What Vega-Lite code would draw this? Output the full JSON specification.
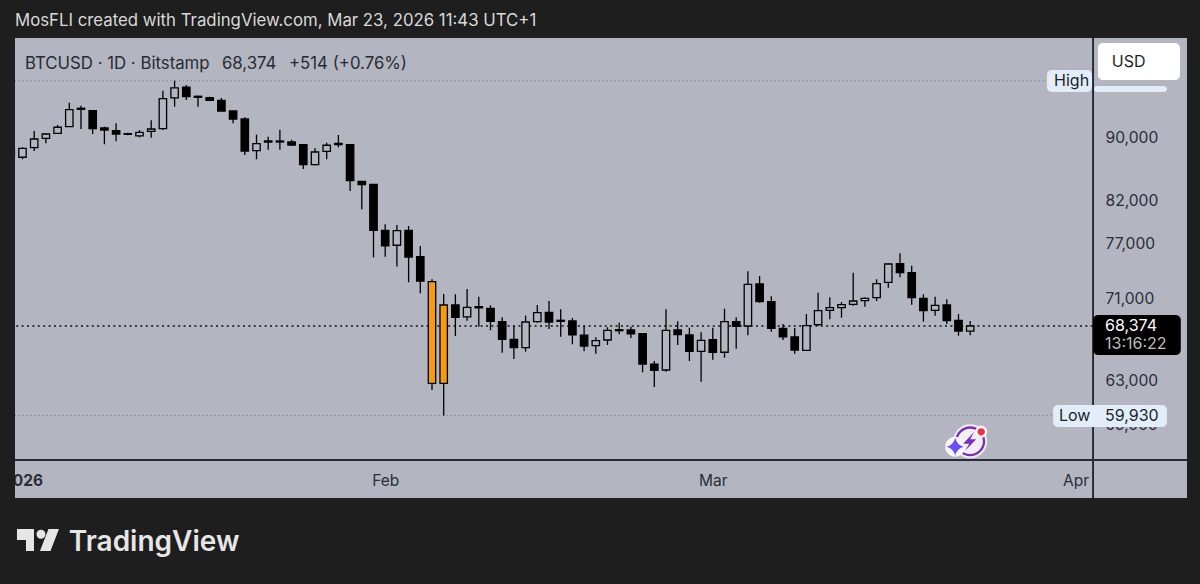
{
  "$schema": "https://vega.github.io/schema/vega-lite/v6.json",
  "autosize": "none",
  "width": 1172,
  "height": 460,
  "padding": {"left": 15, "top": 38, "right": 13, "bottom": 86},
  "background": "#1e1e1e",
  "view": {"fill": "#b3b6c0", "stroke": null},
  "title": {
    "text": "MosFLI created with TradingView.com, Mar 23, 2026 11:43 UTC+1",
    "anchor": "start",
    "frame": "group",
    "offset": 7,
    "font": "Inter",
    "fontSize": 16.8,
    "fontWeight": "normal",
    "color": "#d9d9d9"
  },
  "resolve": {"scale": {"color": "independent", "fill": "independent", "shape": "independent"}},
  "layer": [
    {
      "data": {"values": [
        {"date": "2025-12-31", "date2": "2026-03-29T13:26:00Z", "price": 98090},
        {"date": "2025-12-31", "date2": "2026-03-30T02:00:00Z", "price": 59930}
      ], "format": {"parse": {"date": "date", "date2": "date"}}},
      "mark": {"type": "rule", "color": "#6f7380", "strokeWidth": 1, "strokeDash": [1, 3], "clip": true},
      "encoding": {
        "x": {
          "field": "date",
          "type": "temporal",
          "title": null,
          "scale": {"type": "utc", "domain": ["2025-12-31T08:38:00Z", "2026-04-10T12:43:00Z"], "nice": false, "padding": 0},
          "axis": {
            "orient": "bottom",
            "offset": -18,
            "values": [
              {"year": 2026, "month": 1, "date": 1, "utc": true},
              {"year": 2026, "month": 2, "date": 1, "utc": true},
              {"year": 2026, "month": 3, "date": 1, "utc": true},
              {"year": 2026, "month": 4, "date": 1, "utc": true}
            ],
            "labelExpr": "utcmonth(datum.value) == 0 ? '2026' : utcFormat(datum.value, '%b')",
            "labelFontWeight": {"condition": {"test": "utcmonth(datum.value) == 0", "value": "bold"}, "value": "normal"},
            "labelFont": "Inter",
            "labelFontSize": 15.5,
            "labelColor": "#2a2e39",
            "labelAngle": 0,
            "labelAlign": "center",
            "labelBaseline": "middle",
            "labelPadding": 0,
            "labelOverlap": false,
            "labelFlush": false,
            "labelBound": false,
            "domain": false,
            "ticks": false,
            "grid": false
          }
        },
        "x2": {"field": "date2"},
        "y": {
          "field": "price",
          "type": "quantitative",
          "title": null,
          "scale": {"type": "log", "domain": [53087, 104450], "nice": false, "zero": false},
          "axis": {
            "orient": "right",
            "offset": -82,
            "values": [59000, 63000, 71000, 77000, 82000, 90000],
            "format": ",d",
            "labelFont": "Inter",
            "labelFontSize": 15.6,
            "labelColor": "#2a2e39",
            "labelAlign": "left",
            "labelBaseline": "middle",
            "labelPadding": 0,
            "labelOffset": -1.5,
            "labelOverlap": false,
            "labelBound": false,
            "labelFlush": false,
            "domain": false,
            "ticks": false,
            "grid": false
          }
        }
      }
    },
    {
      "data": {"values": [
        {"date": "2025-12-31", "date2": "2026-04-02T12:00:00Z", "price": 68374}
      ], "format": {"parse": {"date": "date", "date2": "date"}}},
      "mark": {"type": "rule", "color": "#111111", "strokeWidth": 1.3, "strokeDash": [2, 3.4], "clip": true},
      "encoding": {
        "x": {"field": "date", "type": "temporal"},
        "x2": {"field": "date2"},
        "y": {"field": "price", "type": "quantitative"}
      }
    },
    {
      "data": {"name": "candles"},
      "mark": {"type": "rule", "color": "#000000", "strokeWidth": 1.3, "clip": true},
      "encoding": {
        "x": {"field": "date", "type": "temporal"},
        "y": {"field": "low", "type": "quantitative"},
        "y2": {"field": "high"}
      }
    },
    {
      "data": {"name": "candles"},
      "mark": {"type": "bar", "orient": "vertical", "size": 7.4, "stroke": "#000000", "strokeWidth": 1.3, "clip": true},
      "encoding": {
        "x": {"field": "date", "type": "temporal"},
        "y": {"field": "open", "type": "quantitative"},
        "y2": {"field": "close"},
        "fill": {
          "field": "dir",
          "type": "nominal",
          "legend": null,
          "scale": {"domain": ["up", "down", "flag"], "range": ["#b3b6c0", "#000000", "#f79a0e"]}
        }
      }
    },
    {
      "data": {"values": [
        {"date": "2026-04-02T12:00:00Z"}
      ], "format": {"parse": {"date": "date"}}},
      "mark": {"type": "rule", "color": "#0c0c10", "strokeWidth": 1.6},
      "encoding": {"x": {"field": "date", "type": "temporal"}}
    },
    {
      "data": {"values": [
        {"price": 56140}
      ]},
      "mark": {"type": "rule", "color": "#2a2a32", "strokeWidth": 2},
      "encoding": {"y": {"field": "price", "type": "quantitative"}}
    },
    {
      "data": {"values": [
        {"name": "mask", "date": "2025-12-29", "date2": "2025-12-31T08:38:00Z", "price": 56000, "price2": 53087},
        {"name": "high", "date": "2026-03-29T13:26:00Z", "date2": "2026-04-02T09:50:00Z", "price": 99645, "price2": 96472},
        {"name": "strip", "date": "2026-04-02T14:00:00Z", "date2": "2026-04-08T19:40:00Z", "price": 97327, "price2": 96472},
        {"name": "low", "date": "2026-03-30T02:00:00Z", "date2": "2026-04-08T19:40:00Z", "price": 60871, "price2": 58933},
        {"name": "tag", "date": "2026-04-02T12:00:00Z", "date2": "2026-04-10T00:00:00Z", "price": 69491, "price2": 65520},
        {"name": "usd", "date": "2026-04-02T22:00:00Z", "date2": "2026-04-09T22:20:00Z", "price": 103683, "price2": 98190}
      ], "format": {"parse": {"date": "date", "date2": "date"}}},
      "mark": {"type": "rect", "cornerRadius": 5},
      "encoding": {
        "x": {"field": "date", "type": "temporal"},
        "x2": {"field": "date2"},
        "y": {"field": "price", "type": "quantitative"},
        "y2": {"field": "price2"},
        "color": {
          "field": "name",
          "type": "nominal",
          "legend": null,
          "scale": {"domain": ["mask", "high", "strip", "low", "tag", "usd"], "range": ["#1e1e1e", "#e3edfa", "#e3edfa", "#e3edfa", "#000000", "#ffffff"]}
        }
      }
    },
    {
      "data": {"values": [
        {"label": "BTCUSD · 1D · Bitstamp", "date": "2026-01-01T05:00:00Z", "price": 100600},
        {"label": "68,374", "date": "2026-01-18T01:00:00Z", "price": 100600},
        {"label": "+514 (+0.76%)", "date": "2026-01-23T18:40:00Z", "price": 100600}
      ], "format": {"parse": {"date": "date"}}},
      "mark": {"type": "text", "font": "Inter", "fontSize": 16.8, "align": "left", "baseline": "middle", "color": "#272b36"},
      "encoding": {
        "x": {"field": "date", "type": "temporal"},
        "y": {"field": "price", "type": "quantitative"},
        "text": {"field": "label", "type": "nominal"}
      }
    },
    {
      "data": {"values": [
        {"label": "High", "role": "dark", "date": "2026-03-30T04:00:00Z", "price": 98118},
        {"label": "Low", "role": "dark", "date": "2026-03-30T14:00:00Z", "price": 59900},
        {"label": "59,930", "role": "dark", "date": "2026-04-03T12:30:00Z", "price": 59900},
        {"label": "68,374", "role": "white", "date": "2026-04-03T12:30:00Z", "price": 68374},
        {"label": "13:16:22", "role": "soft", "date": "2026-04-03T12:30:00Z", "price": 66560},
        {"label": "USD", "role": "dark", "date": "2026-04-04T02:24:00Z", "price": 100825}
      ], "format": {"parse": {"date": "date"}}},
      "mark": {"type": "text", "font": "Inter", "fontSize": 16, "align": "left", "baseline": "middle"},
      "encoding": {
        "x": {"field": "date", "type": "temporal"},
        "y": {"field": "price", "type": "quantitative"},
        "text": {"field": "label", "type": "nominal"},
        "color": {
          "field": "role",
          "type": "nominal",
          "legend": null,
          "scale": {"domain": ["dark", "white", "soft"], "range": ["#1c1f29", "#ffffff", "#bdbdbd"]}
        }
      }
    },
    {
      "data": {"values": [
        {"label": "TradingView", "date": "2026-01-04T23:00:00Z", "price": 49685}
      ], "format": {"parse": {"date": "date"}}},
      "mark": {"type": "text", "font": "Inter", "fontSize": 28, "fontWeight": 600, "align": "left", "baseline": "middle", "color": "#e6e6e6"},
      "encoding": {
        "x": {"field": "date", "type": "temporal"},
        "y": {"field": "price", "type": "quantitative"},
        "text": {"field": "label", "type": "nominal"}
      }
    },
    {
      "data": {"values": [
        {"date": "2026-01-02T07:45:00Z", "price": 49905}
      ], "format": {"parse": {"date": "date"}}},
      "mark": {
        "type": "point",
        "filled": true,
        "size": 4,
        "color": "#e6e6e6",
        "opacity": 1,
        "shape": "M-21,-11H-4V11H-12V0H-21ZM-1.5,-5.7a4.5,4.5 0 1,0 9,0a4.5,4.5 0 1,0 -9,0ZM10.5,-11H21L12.5,11H2Z"
      },
      "encoding": {
        "x": {"field": "date", "type": "temporal"},
        "y": {"field": "price", "type": "quantitative"}
      }
    },
    {
      "data": {"values": [
        {"part": "disc", "date": "2026-03-23T00:00:00Z", "price": 57700},
        {"part": "ring", "date": "2026-03-23T00:00:00Z", "price": 57700},
        {"part": "halo", "date": "2026-03-23T00:00:00Z", "price": 57700},
        {"part": "star", "date": "2026-03-23T00:00:00Z", "price": 57700},
        {"part": "bolt", "date": "2026-03-23T00:00:00Z", "price": 57700},
        {"part": "dot", "date": "2026-03-23T00:00:00Z", "price": 57700}
      ], "format": {"parse": {"date": "date"}}},
      "mark": {"type": "point", "filled": true, "size": 4, "opacity": 1},
      "encoding": {
        "x": {"field": "date", "type": "temporal"},
        "y": {"field": "price", "type": "quantitative"},
        "color": {
          "field": "part",
          "type": "nominal",
          "legend": null,
          "scale": {"domain": ["disc", "ring", "halo", "star", "bolt", "dot"], "range": ["#f1eff6", "#7d2fb3", "#f7f5fa", "#6a4df5", "#7d2fb3", "#ee3340"]}
        },
        "shape": {
          "field": "part",
          "type": "nominal",
          "legend": null,
          "scale": {
            "domain": ["disc", "ring", "halo", "star", "bolt", "dot"],
            "range": [
              "M-17,0a17,17 0 1,0 34,0a17,17 0 1,0 -34,0Z",
              "M-15,0a15,15 0 1,0 30,0a15,15 0 1,0 -30,0ZM-12.7,0a12.7,12.7 0 1,1 25.4,0a12.7,12.7 0 1,1 -25.4,0Z",
              "M-25,5.5a10,10 0 1,0 20,0a10,10 0 1,0 -20,0ZM5,-9.5a6,6 0 1,0 12,0a6,6 0 1,0 -12,0Z",
              "M-15,-3.5Q-13.5,3.5 -6.5,5.5Q-13.5,7.5 -15,14.5Q-16.5,7.5 -23.5,5.5Q-16.5,3.5 -15,-3.5Z",
              "M4,-9.5L-7,2.5H-1L-5,9.5L6,-2H0Z",
              "M7.3,-9.5a3.7,3.7 0 1,0 7.4,0a3.7,3.7 0 1,0 -7.4,0Z"
            ]
          }
        }
      }
    }
  ],
  "datasets": {
    "candles": [
      {"date": "2025-12-31", "open": 87678, "close": 88581, "high": 88712, "low": 87549, "dir": "up"},
      {"date": "2026-01-01", "open": 87639, "close": 88807, "high": 88938, "low": 87381, "dir": "up"},
      {"date": "2026-01-02", "open": 88885, "close": 90030, "high": 91094, "low": 88452, "dir": "up"},
      {"date": "2026-01-03", "open": 90123, "close": 90695, "high": 90788, "low": 89462, "dir": "up"},
      {"date": "2026-01-04", "open": 90788, "close": 91594, "high": 91904, "low": 90695, "dir": "up"},
      {"date": "2026-01-05", "open": 91674, "close": 93995, "high": 94968, "low": 91674, "dir": "up"},
      {"date": "2026-01-06", "open": 94050, "close": 94189, "high": 94551, "low": 91364, "dir": "up"},
      {"date": "2026-01-07", "open": 93855, "close": 91404, "high": 93900, "low": 90695, "dir": "down"},
      {"date": "2026-01-08", "open": 91499, "close": 91227, "high": 91674, "low": 89331, "dir": "down"},
      {"date": "2026-01-09", "open": 91134, "close": 90695, "high": 92133, "low": 89724, "dir": "down"},
      {"date": "2026-01-10", "open": 90735, "close": 90655, "high": 90868, "low": 90522, "dir": "down"},
      {"date": "2026-01-11", "open": 90429, "close": 90921, "high": 91227, "low": 90256, "dir": "up"},
      {"date": "2026-01-12", "open": 91054, "close": 91364, "high": 92538, "low": 90203, "dir": "up"},
      {"date": "2026-01-13", "open": 91404, "close": 95530, "high": 96658, "low": 91227, "dir": "up"},
      {"date": "2026-01-14", "open": 95629, "close": 97046, "high": 98090, "low": 94412, "dir": "up"},
      {"date": "2026-01-15", "open": 97146, "close": 95812, "high": 97475, "low": 95343, "dir": "down"},
      {"date": "2026-01-16", "open": 95869, "close": 95728, "high": 95953, "low": 94412, "dir": "down"},
      {"date": "2026-01-17", "open": 95671, "close": 95301, "high": 95812, "low": 95246, "dir": "down"},
      {"date": "2026-01-18", "open": 95301, "close": 93814, "high": 95629, "low": 93814, "dir": "down"},
      {"date": "2026-01-19", "open": 93814, "close": 92718, "high": 93850, "low": 92133, "dir": "down"},
      {"date": "2026-01-20", "open": 92718, "close": 88452, "high": 92951, "low": 87936, "dir": "down"},
      {"date": "2026-01-21", "open": 88491, "close": 89409, "high": 90602, "low": 87381, "dir": "up"},
      {"date": "2026-01-22", "open": 89632, "close": 89763, "high": 90336, "low": 88624, "dir": "up"},
      {"date": "2026-01-23", "open": 89632, "close": 89763, "high": 91269, "low": 88624, "dir": "up"},
      {"date": "2026-01-24", "open": 89632, "close": 89239, "high": 89934, "low": 89147, "dir": "down"},
      {"date": "2026-01-25", "open": 89278, "close": 86686, "high": 89290, "low": 86136, "dir": "down"},
      {"date": "2026-01-26", "open": 86686, "close": 88323, "high": 88804, "low": 86610, "dir": "up"},
      {"date": "2026-01-27", "open": 88413, "close": 89200, "high": 89540, "low": 87381, "dir": "up"},
      {"date": "2026-01-28", "open": 89278, "close": 89462, "high": 90562, "low": 88937, "dir": "up"},
      {"date": "2026-01-29", "open": 89278, "close": 84670, "high": 89290, "low": 83397, "dir": "down"},
      {"date": "2026-01-30", "open": 84596, "close": 84199, "high": 84633, "low": 81184, "dir": "down"},
      {"date": "2026-01-31", "open": 84224, "close": 78711, "high": 84224, "low": 75644, "dir": "down"},
      {"date": "2026-02-01", "open": 78711, "close": 76918, "high": 79410, "low": 75712, "dir": "down"},
      {"date": "2026-02-02", "open": 76997, "close": 78665, "high": 79328, "low": 74619, "dir": "up"},
      {"date": "2026-02-03", "open": 78711, "close": 75678, "high": 79211, "low": 72915, "dir": "down"},
      {"date": "2026-02-04", "open": 75712, "close": 73054, "high": 76918, "low": 71747, "dir": "down"},
      {"date": "2026-02-05", "open": 72979, "close": 62848, "high": 73237, "low": 62230, "dir": "flag"},
      {"date": "2026-02-06", "open": 62848, "close": 70520, "high": 71673, "low": 59930, "dir": "flag"},
      {"date": "2026-02-07", "open": 70520, "close": 69257, "high": 71640, "low": 67379, "dir": "down"},
      {"date": "2026-02-08", "open": 69288, "close": 70283, "high": 72200, "low": 68909, "dir": "up"},
      {"date": "2026-02-09", "open": 70217, "close": 70352, "high": 71387, "low": 68303, "dir": "up"},
      {"date": "2026-02-10", "open": 70175, "close": 68849, "high": 70487, "low": 67943, "dir": "down"},
      {"date": "2026-02-11", "open": 68808, "close": 67048, "high": 69257, "low": 65743, "dir": "down"},
      {"date": "2026-02-12", "open": 67048, "close": 66225, "high": 68374, "low": 65134, "dir": "down"},
      {"date": "2026-02-13", "open": 66225, "close": 68778, "high": 69420, "low": 65839, "dir": "up"},
      {"date": "2026-02-14", "open": 68808, "close": 69727, "high": 70520, "low": 68707, "dir": "up"},
      {"date": "2026-02-15", "open": 69767, "close": 68778, "high": 70936, "low": 68071, "dir": "down"},
      {"date": "2026-02-16", "open": 68950, "close": 68849, "high": 70075, "low": 67300, "dir": "down"},
      {"date": "2026-02-17", "open": 68879, "close": 67478, "high": 69186, "low": 66559, "dir": "down"},
      {"date": "2026-02-18", "open": 67448, "close": 66392, "high": 68404, "low": 65877, "dir": "down"},
      {"date": "2026-02-19", "open": 66421, "close": 66911, "high": 67240, "low": 65647, "dir": "up"},
      {"date": "2026-02-20", "open": 66980, "close": 67943, "high": 68246, "low": 66490, "dir": "up"},
      {"date": "2026-02-21", "open": 67904, "close": 68003, "high": 68707, "low": 67547, "dir": "up"},
      {"date": "2026-02-22", "open": 67973, "close": 67577, "high": 68303, "low": 67181, "dir": "down"},
      {"date": "2026-02-23", "open": 67607, "close": 64658, "high": 67607, "low": 63872, "dir": "down"},
      {"date": "2026-02-24", "open": 64630, "close": 64060, "high": 64943, "low": 62506, "dir": "down"},
      {"date": "2026-02-25", "open": 64088, "close": 67943, "high": 70075, "low": 63928, "dir": "up"},
      {"date": "2026-02-26", "open": 67973, "close": 67508, "high": 68849, "low": 66490, "dir": "down"},
      {"date": "2026-02-27", "open": 67478, "close": 65877, "high": 68205, "low": 64943, "dir": "down"},
      {"date": "2026-02-28", "open": 65877, "close": 66951, "high": 67745, "low": 62996, "dir": "up"},
      {"date": "2026-03-01", "open": 67010, "close": 65781, "high": 68205, "low": 65067, "dir": "down"},
      {"date": "2026-03-02", "open": 65781, "close": 68808, "high": 70135, "low": 65263, "dir": "up"},
      {"date": "2026-03-03", "open": 68808, "close": 68344, "high": 69257, "low": 66129, "dir": "down"},
      {"date": "2026-03-04", "open": 68374, "close": 72701, "high": 74106, "low": 67448, "dir": "up"},
      {"date": "2026-03-05", "open": 72733, "close": 70863, "high": 73593, "low": 70759, "dir": "down"},
      {"date": "2026-03-06", "open": 70863, "close": 68142, "high": 71429, "low": 67805, "dir": "down"},
      {"date": "2026-03-07", "open": 68142, "close": 67280, "high": 68576, "low": 66980, "dir": "down"},
      {"date": "2026-03-08", "open": 67280, "close": 66002, "high": 68175, "low": 65647, "dir": "down"},
      {"date": "2026-03-09", "open": 65973, "close": 68404, "high": 69594, "low": 65935, "dir": "up"},
      {"date": "2026-03-10", "open": 68505, "close": 69929, "high": 71809, "low": 68374, "dir": "up"},
      {"date": "2026-03-11", "open": 69971, "close": 70241, "high": 71324, "low": 69053, "dir": "up"},
      {"date": "2026-03-12", "open": 70241, "close": 70551, "high": 70832, "low": 69217, "dir": "up"},
      {"date": "2026-03-13", "open": 70593, "close": 70936, "high": 73955, "low": 70447, "dir": "up"},
      {"date": "2026-03-14", "open": 70967, "close": 71219, "high": 71324, "low": 70345, "dir": "up"},
      {"date": "2026-03-15", "open": 71282, "close": 72765, "high": 73237, "low": 70936, "dir": "up"},
      {"date": "2026-03-16", "open": 72915, "close": 74905, "high": 74983, "low": 72339, "dir": "up"},
      {"date": "2026-03-17", "open": 74938, "close": 73955, "high": 76092, "low": 73453, "dir": "down"},
      {"date": "2026-03-18", "open": 73955, "close": 71282, "high": 74718, "low": 70551, "dir": "down"},
      {"date": "2026-03-19", "open": 71219, "close": 69929, "high": 71640, "low": 68808, "dir": "down"},
      {"date": "2026-03-20", "open": 69971, "close": 70487, "high": 71387, "low": 69420, "dir": "up"},
      {"date": "2026-03-21", "open": 70520, "close": 68909, "high": 71114, "low": 68576, "dir": "down"},
      {"date": "2026-03-22", "open": 68950, "close": 67874, "high": 69594, "low": 67408, "dir": "down"},
      {"date": "2026-03-23", "open": 67860, "close": 68374, "high": 68879, "low": 67448, "dir": "up"}
    ]
  }
}
